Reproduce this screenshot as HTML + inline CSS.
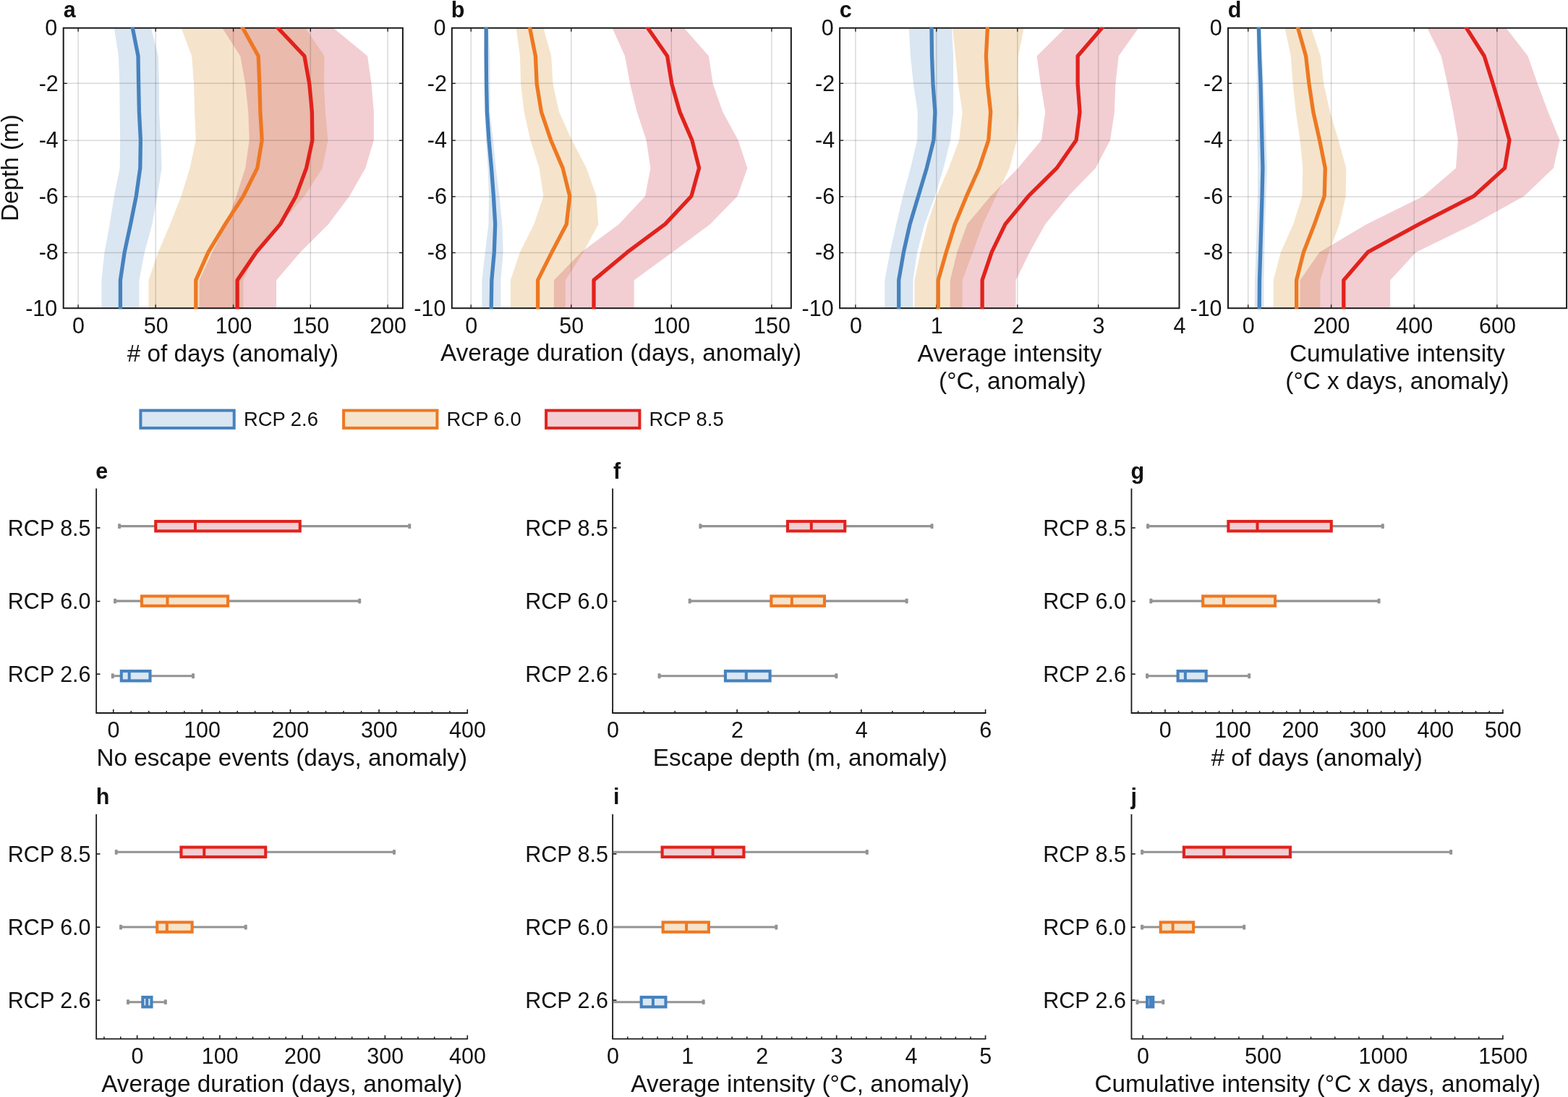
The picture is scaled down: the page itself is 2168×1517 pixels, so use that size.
<!DOCTYPE html>
<html lang="en">
<head>
<meta charset="utf-8">
<title>Figure</title>
<style>
html,body{margin:0;padding:0;background:#fff;}
body{width:2168px;height:1517px;overflow:hidden;}
main,figure{display:block;margin:0;padding:0;width:2168px;height:1517px;}
svg{display:block;}
svg text{font-family:"Liberation Sans", sans-serif;}
</style>
</head>
<body>
<main>
<figure>
<svg width="2168" height="1517" viewBox="0 0 2168 1517" role="img" aria-label="Marine heatwave anomalies by depth and RCP scenario">
<g font-family='"Liberation Sans", sans-serif' fill="#111111">
<g>
<clipPath id="clipa"><rect x="86.7" y="37.7" width="471.20" height="389.50"/></clipPath>
<g clip-path="url(#clipa)">
<polygon points="157.8,38.7 163.9,77.5 165.3,116.2 165.6,154.9 166.1,193.7 165.6,232.4 157.8,271.2 151.7,309.9 144.5,348.7 140.4,387.4 140.4,426.2 192.4,426.2 192.4,387.4 199.9,348.7 210.4,309.9 217.3,271.2 223.7,232.4 222.3,193.7 220.1,154.9 220.1,116.2 218.7,77.5 209.0,38.7" fill="#4682be" fill-opacity="0.2"/>
<polygon points="250.6,38.7 265.2,77.5 268.0,116.2 269.1,154.9 270.8,193.7 262.5,232.4 250.6,271.2 235.3,309.9 218.7,348.7 205.4,387.4 205.4,426.2 336.4,426.2 336.4,387.4 354.4,348.7 387.6,309.9 420.9,271.2 445.8,232.4 453.5,193.7 449.9,154.9 448.0,116.2 448.5,77.5 422.2,38.7" fill="#e6bc7d" fill-opacity="0.4"/>
<polygon points="307.3,38.7 332.3,77.5 339.2,116.2 343.3,154.9 344.7,193.7 339.2,232.4 326.7,271.2 312.9,309.9 293.5,348.7 275.5,387.4 275.5,426.2 382.1,426.2 382.1,387.4 415.3,348.7 454.1,309.9 483.2,271.2 505.3,232.4 516.9,193.7 516.9,154.9 513.6,116.2 508.1,77.5 461.0,38.7" fill="#cc3d50" fill-opacity="0.25"/>
</g>
<line x1="108.10" x2="108.10" y1="43.7" y2="421.2" stroke="#000" stroke-opacity="0.15" stroke-width="1.5"/>
<line x1="215.20" x2="215.20" y1="43.7" y2="421.2" stroke="#000" stroke-opacity="0.15" stroke-width="1.5"/>
<line x1="322.60" x2="322.60" y1="43.7" y2="421.2" stroke="#000" stroke-opacity="0.15" stroke-width="1.5"/>
<line x1="429.30" x2="429.30" y1="43.7" y2="421.2" stroke="#000" stroke-opacity="0.15" stroke-width="1.5"/>
<line x1="536.10" x2="536.10" y1="43.7" y2="421.2" stroke="#000" stroke-opacity="0.15" stroke-width="1.5"/>
<line x1="92.7" x2="551.9" y1="115.30" y2="115.30" stroke="#000" stroke-opacity="0.15" stroke-width="1.5"/>
<line x1="92.7" x2="551.9" y1="194.20" y2="194.20" stroke="#000" stroke-opacity="0.15" stroke-width="1.5"/>
<line x1="92.7" x2="551.9" y1="271.90" y2="271.90" stroke="#000" stroke-opacity="0.15" stroke-width="1.5"/>
<line x1="92.7" x2="551.9" y1="349.50" y2="349.50" stroke="#000" stroke-opacity="0.15" stroke-width="1.5"/>
<line x1="108.10" x2="108.10" y1="426.2" y2="421.2" stroke="#1a1a1a" stroke-width="1.4"/>
<line x1="108.10" x2="108.10" y1="38.7" y2="43.7" stroke="#1a1a1a" stroke-width="1.4"/>
<line x1="215.20" x2="215.20" y1="426.2" y2="421.2" stroke="#1a1a1a" stroke-width="1.4"/>
<line x1="215.20" x2="215.20" y1="38.7" y2="43.7" stroke="#1a1a1a" stroke-width="1.4"/>
<line x1="322.60" x2="322.60" y1="426.2" y2="421.2" stroke="#1a1a1a" stroke-width="1.4"/>
<line x1="322.60" x2="322.60" y1="38.7" y2="43.7" stroke="#1a1a1a" stroke-width="1.4"/>
<line x1="429.30" x2="429.30" y1="426.2" y2="421.2" stroke="#1a1a1a" stroke-width="1.4"/>
<line x1="429.30" x2="429.30" y1="38.7" y2="43.7" stroke="#1a1a1a" stroke-width="1.4"/>
<line x1="536.10" x2="536.10" y1="426.2" y2="421.2" stroke="#1a1a1a" stroke-width="1.4"/>
<line x1="536.10" x2="536.10" y1="38.7" y2="43.7" stroke="#1a1a1a" stroke-width="1.4"/>
<line x1="87.7" x2="92.7" y1="115.30" y2="115.30" stroke="#1a1a1a" stroke-width="1.4"/>
<line x1="556.9" x2="551.9" y1="115.30" y2="115.30" stroke="#1a1a1a" stroke-width="1.4"/>
<line x1="87.7" x2="92.7" y1="194.20" y2="194.20" stroke="#1a1a1a" stroke-width="1.4"/>
<line x1="556.9" x2="551.9" y1="194.20" y2="194.20" stroke="#1a1a1a" stroke-width="1.4"/>
<line x1="87.7" x2="92.7" y1="271.90" y2="271.90" stroke="#1a1a1a" stroke-width="1.4"/>
<line x1="556.9" x2="551.9" y1="271.90" y2="271.90" stroke="#1a1a1a" stroke-width="1.4"/>
<line x1="87.7" x2="92.7" y1="349.50" y2="349.50" stroke="#1a1a1a" stroke-width="1.4"/>
<line x1="556.9" x2="551.9" y1="349.50" y2="349.50" stroke="#1a1a1a" stroke-width="1.4"/>
<rect x="87.7" y="38.7" width="469.20" height="387.50" fill="none" stroke="#1a1a1a" stroke-width="2"/>
<g clip-path="url(#clipa)">
<polyline points="182.9,36.8 183.3,38.7 191.0,77.5 191.6,116.2 192.4,154.9 194.4,193.7 193.8,232.4 188.3,271.2 180.5,309.9 172.2,348.7 166.4,387.4 166.4,426.2 166.4,428.2" fill="none" stroke="#4682be" stroke-width="5.3" stroke-linejoin="round"/>
<polyline points="334.5,36.8 335.6,38.7 357.2,77.5 358.8,116.2 359.9,154.9 362.2,193.7 355.8,232.4 336.4,271.2 311.5,309.9 288.0,348.7 270.8,387.4 270.8,426.2 270.8,428.2" fill="none" stroke="#ee7822" stroke-width="5.3" stroke-linejoin="round"/>
<polyline points="382.5,36.8 384.3,38.7 420.9,77.5 427.8,116.2 431.4,154.9 431.9,193.7 423.6,232.4 409.2,271.2 387.6,309.9 354.4,348.7 328.1,387.4 328.1,426.2 328.1,428.2" fill="none" stroke="#e1221c" stroke-width="5.3" stroke-linejoin="round"/>
</g>
<text x="108.60" y="460.90" font-size="30.5" text-anchor="middle" font-weight="normal" >0</text>
<text x="215.70" y="460.90" font-size="30.5" text-anchor="middle" font-weight="normal" >50</text>
<text x="323.10" y="460.90" font-size="30.5" text-anchor="middle" font-weight="normal" >100</text>
<text x="429.80" y="460.90" font-size="30.5" text-anchor="middle" font-weight="normal" >150</text>
<text x="536.60" y="460.90" font-size="30.5" text-anchor="middle" font-weight="normal" >200</text>
<text x="79.30" y="48.60" font-size="30.5" text-anchor="end" font-weight="normal" >0</text>
<text x="80.80" y="126.24" font-size="30.5" text-anchor="end" font-weight="normal" >-2</text>
<text x="80.80" y="203.88" font-size="30.5" text-anchor="end" font-weight="normal" >-4</text>
<text x="80.80" y="281.52" font-size="30.5" text-anchor="end" font-weight="normal" >-6</text>
<text x="80.80" y="359.16" font-size="30.5" text-anchor="end" font-weight="normal" >-8</text>
<text x="79.30" y="436.80" font-size="30.5" text-anchor="end" font-weight="normal" >-10</text>
<text x="87.70" y="23.50" font-size="30.5" text-anchor="start" font-weight="bold" >a</text>
</g>
<g>
<clipPath id="clipb"><rect x="623.8" y="37.7" width="471.05" height="389.50"/></clipPath>
<g clip-path="url(#clipb)">
<polygon points="669.6,38.7 669.6,77.5 670.2,116.2 670.2,154.9 672.0,193.7 674.6,232.4 676.0,271.2 675.4,309.9 670.8,348.7 666.4,387.4 666.4,426.2 692.3,426.2 692.3,387.4 695.7,348.7 694.3,309.9 690.5,271.2 685.6,232.4 681.8,193.7 677.5,154.9 677.5,116.2 677.5,77.5 675.1,38.7" fill="#4682be" fill-opacity="0.2"/>
<polygon points="713.7,38.7 718.9,77.5 720.1,116.2 724.7,154.9 733.4,193.7 745.6,232.4 751.4,271.2 738.4,309.9 718.9,348.7 705.9,387.4 705.9,426.2 781.9,426.2 781.9,387.4 806.5,348.7 827.4,309.9 824.5,271.2 810.9,232.4 790.6,193.7 773.2,154.9 764.5,116.2 762.2,77.5 751.4,38.7" fill="#e6bc7d" fill-opacity="0.4"/>
<polygon points="846.6,38.7 864.0,77.5 871.2,116.2 880.8,154.9 893.6,193.7 899.4,232.4 892.1,271.2 855.8,309.9 803.6,348.7 765.9,387.4 765.9,426.2 876.7,426.2 876.7,387.4 929.8,348.7 982.0,309.9 1019.7,271.2 1033.4,232.4 1020.6,193.7 999.4,154.9 985.8,116.2 980.0,77.5 945.8,38.7" fill="#cc3d50" fill-opacity="0.25"/>
</g>
<line x1="651.20" x2="651.20" y1="43.7" y2="421.2" stroke="#000" stroke-opacity="0.15" stroke-width="1.5"/>
<line x1="789.80" x2="789.80" y1="43.7" y2="421.2" stroke="#000" stroke-opacity="0.15" stroke-width="1.5"/>
<line x1="928.30" x2="928.30" y1="43.7" y2="421.2" stroke="#000" stroke-opacity="0.15" stroke-width="1.5"/>
<line x1="1066.90" x2="1066.90" y1="43.7" y2="421.2" stroke="#000" stroke-opacity="0.15" stroke-width="1.5"/>
<line x1="629.8" x2="1088.85" y1="115.30" y2="115.30" stroke="#000" stroke-opacity="0.15" stroke-width="1.5"/>
<line x1="629.8" x2="1088.85" y1="194.20" y2="194.20" stroke="#000" stroke-opacity="0.15" stroke-width="1.5"/>
<line x1="629.8" x2="1088.85" y1="271.90" y2="271.90" stroke="#000" stroke-opacity="0.15" stroke-width="1.5"/>
<line x1="629.8" x2="1088.85" y1="349.50" y2="349.50" stroke="#000" stroke-opacity="0.15" stroke-width="1.5"/>
<line x1="651.20" x2="651.20" y1="426.2" y2="421.2" stroke="#1a1a1a" stroke-width="1.4"/>
<line x1="651.20" x2="651.20" y1="38.7" y2="43.7" stroke="#1a1a1a" stroke-width="1.4"/>
<line x1="789.80" x2="789.80" y1="426.2" y2="421.2" stroke="#1a1a1a" stroke-width="1.4"/>
<line x1="789.80" x2="789.80" y1="38.7" y2="43.7" stroke="#1a1a1a" stroke-width="1.4"/>
<line x1="928.30" x2="928.30" y1="426.2" y2="421.2" stroke="#1a1a1a" stroke-width="1.4"/>
<line x1="928.30" x2="928.30" y1="38.7" y2="43.7" stroke="#1a1a1a" stroke-width="1.4"/>
<line x1="1066.90" x2="1066.90" y1="426.2" y2="421.2" stroke="#1a1a1a" stroke-width="1.4"/>
<line x1="1066.90" x2="1066.90" y1="38.7" y2="43.7" stroke="#1a1a1a" stroke-width="1.4"/>
<line x1="624.8" x2="629.8" y1="115.30" y2="115.30" stroke="#1a1a1a" stroke-width="1.4"/>
<line x1="1093.85" x2="1088.85" y1="115.30" y2="115.30" stroke="#1a1a1a" stroke-width="1.4"/>
<line x1="624.8" x2="629.8" y1="194.20" y2="194.20" stroke="#1a1a1a" stroke-width="1.4"/>
<line x1="1093.85" x2="1088.85" y1="194.20" y2="194.20" stroke="#1a1a1a" stroke-width="1.4"/>
<line x1="624.8" x2="629.8" y1="271.90" y2="271.90" stroke="#1a1a1a" stroke-width="1.4"/>
<line x1="1093.85" x2="1088.85" y1="271.90" y2="271.90" stroke="#1a1a1a" stroke-width="1.4"/>
<line x1="624.8" x2="629.8" y1="349.50" y2="349.50" stroke="#1a1a1a" stroke-width="1.4"/>
<line x1="1093.85" x2="1088.85" y1="349.50" y2="349.50" stroke="#1a1a1a" stroke-width="1.4"/>
<rect x="624.8" y="38.7" width="469.05" height="387.50" fill="none" stroke="#1a1a1a" stroke-width="2"/>
<g clip-path="url(#clipb)">
<polyline points="672.2,36.8 672.2,38.7 672.2,77.5 672.5,116.2 673.4,154.9 676.0,193.7 679.5,232.4 682.4,271.2 684.7,309.9 683.3,348.7 679.8,387.4 679.2,426.2 679.2,428.2" fill="none" stroke="#4682be" stroke-width="5.3" stroke-linejoin="round"/>
<polyline points="732.2,36.8 732.6,38.7 740.4,77.5 742.2,116.2 748.5,154.9 761.6,193.7 778.1,232.4 787.7,271.2 783.3,309.9 763.0,348.7 743.6,387.4 743.6,426.2 743.6,428.2" fill="none" stroke="#ee7822" stroke-width="5.3" stroke-linejoin="round"/>
<polyline points="894.2,36.8 895.6,38.7 922.6,77.5 928.9,116.2 940.0,154.9 956.8,193.7 966.6,232.4 955.9,271.2 919.7,309.9 867.5,348.7 821.0,387.4 821.0,426.2 821.0,428.2" fill="none" stroke="#e1221c" stroke-width="5.3" stroke-linejoin="round"/>
</g>
<text x="651.70" y="460.90" font-size="30.5" text-anchor="middle" font-weight="normal" >0</text>
<text x="790.30" y="460.90" font-size="30.5" text-anchor="middle" font-weight="normal" >50</text>
<text x="928.80" y="460.90" font-size="30.5" text-anchor="middle" font-weight="normal" >100</text>
<text x="1067.40" y="460.90" font-size="30.5" text-anchor="middle" font-weight="normal" >150</text>
<text x="616.40" y="48.60" font-size="30.5" text-anchor="end" font-weight="normal" >0</text>
<text x="617.90" y="126.24" font-size="30.5" text-anchor="end" font-weight="normal" >-2</text>
<text x="617.90" y="203.88" font-size="30.5" text-anchor="end" font-weight="normal" >-4</text>
<text x="617.90" y="281.52" font-size="30.5" text-anchor="end" font-weight="normal" >-6</text>
<text x="617.90" y="359.16" font-size="30.5" text-anchor="end" font-weight="normal" >-8</text>
<text x="616.40" y="436.80" font-size="30.5" text-anchor="end" font-weight="normal" >-10</text>
<text x="623.70" y="23.50" font-size="30.5" text-anchor="start" font-weight="bold" >b</text>
</g>
<g>
<clipPath id="clipc"><rect x="1160.1" y="37.7" width="471.40" height="389.50"/></clipPath>
<g clip-path="url(#clipc)">
<polygon points="1256.6,38.7 1258.9,77.5 1263.0,116.2 1268.8,154.9 1268.2,193.7 1258.9,232.4 1248.5,271.2 1239.2,309.9 1230.5,348.7 1223.3,387.4 1223.3,426.2 1262.4,426.2 1262.4,387.4 1268.2,348.7 1278.4,309.9 1292.9,271.2 1304.5,232.4 1314.1,193.7 1318.1,154.9 1318.1,116.2 1318.1,77.5 1316.1,38.7" fill="#4682be" fill-opacity="0.2"/>
<polygon points="1317.0,38.7 1321.0,77.5 1324.8,116.2 1330.6,154.9 1326.2,193.7 1311.7,232.4 1294.9,271.2 1282.2,309.9 1272.6,348.7 1264.5,387.4 1264.5,426.2 1330.6,426.2 1330.6,387.4 1345.1,348.7 1359.0,309.9 1377.3,271.2 1395.8,232.4 1406.0,193.7 1408.9,154.9 1407.5,116.2 1408.0,77.5 1415.6,38.7" fill="#e6bc7d" fill-opacity="0.4"/>
<polygon points="1472.7,38.7 1433.6,77.5 1438.8,116.2 1445.2,154.9 1439.9,193.7 1407.5,232.4 1369.7,271.2 1337.3,309.9 1323.3,348.7 1313.8,387.4 1313.8,426.2 1404.6,426.2 1404.6,387.4 1423.7,348.7 1445.2,309.9 1477.1,271.2 1514.8,232.4 1535.1,193.7 1540.9,154.9 1542.3,116.2 1546.7,77.5 1574.2,38.7" fill="#cc3d50" fill-opacity="0.25"/>
</g>
<line x1="1182.90" x2="1182.90" y1="43.7" y2="421.2" stroke="#000" stroke-opacity="0.15" stroke-width="1.5"/>
<line x1="1294.80" x2="1294.80" y1="43.7" y2="421.2" stroke="#000" stroke-opacity="0.15" stroke-width="1.5"/>
<line x1="1406.80" x2="1406.80" y1="43.7" y2="421.2" stroke="#000" stroke-opacity="0.15" stroke-width="1.5"/>
<line x1="1518.60" x2="1518.60" y1="43.7" y2="421.2" stroke="#000" stroke-opacity="0.15" stroke-width="1.5"/>
<line x1="1166.1" x2="1625.5" y1="115.30" y2="115.30" stroke="#000" stroke-opacity="0.15" stroke-width="1.5"/>
<line x1="1166.1" x2="1625.5" y1="194.20" y2="194.20" stroke="#000" stroke-opacity="0.15" stroke-width="1.5"/>
<line x1="1166.1" x2="1625.5" y1="271.90" y2="271.90" stroke="#000" stroke-opacity="0.15" stroke-width="1.5"/>
<line x1="1166.1" x2="1625.5" y1="349.50" y2="349.50" stroke="#000" stroke-opacity="0.15" stroke-width="1.5"/>
<line x1="1182.90" x2="1182.90" y1="426.2" y2="421.2" stroke="#1a1a1a" stroke-width="1.4"/>
<line x1="1182.90" x2="1182.90" y1="38.7" y2="43.7" stroke="#1a1a1a" stroke-width="1.4"/>
<line x1="1294.80" x2="1294.80" y1="426.2" y2="421.2" stroke="#1a1a1a" stroke-width="1.4"/>
<line x1="1294.80" x2="1294.80" y1="38.7" y2="43.7" stroke="#1a1a1a" stroke-width="1.4"/>
<line x1="1406.80" x2="1406.80" y1="426.2" y2="421.2" stroke="#1a1a1a" stroke-width="1.4"/>
<line x1="1406.80" x2="1406.80" y1="38.7" y2="43.7" stroke="#1a1a1a" stroke-width="1.4"/>
<line x1="1518.60" x2="1518.60" y1="426.2" y2="421.2" stroke="#1a1a1a" stroke-width="1.4"/>
<line x1="1518.60" x2="1518.60" y1="38.7" y2="43.7" stroke="#1a1a1a" stroke-width="1.4"/>
<line x1="1161.1" x2="1166.1" y1="115.30" y2="115.30" stroke="#1a1a1a" stroke-width="1.4"/>
<line x1="1630.5" x2="1625.5" y1="115.30" y2="115.30" stroke="#1a1a1a" stroke-width="1.4"/>
<line x1="1161.1" x2="1166.1" y1="194.20" y2="194.20" stroke="#1a1a1a" stroke-width="1.4"/>
<line x1="1630.5" x2="1625.5" y1="194.20" y2="194.20" stroke="#1a1a1a" stroke-width="1.4"/>
<line x1="1161.1" x2="1166.1" y1="271.90" y2="271.90" stroke="#1a1a1a" stroke-width="1.4"/>
<line x1="1630.5" x2="1625.5" y1="271.90" y2="271.90" stroke="#1a1a1a" stroke-width="1.4"/>
<line x1="1161.1" x2="1166.1" y1="349.50" y2="349.50" stroke="#1a1a1a" stroke-width="1.4"/>
<line x1="1630.5" x2="1625.5" y1="349.50" y2="349.50" stroke="#1a1a1a" stroke-width="1.4"/>
<rect x="1161.1" y="38.7" width="469.40" height="387.50" fill="none" stroke="#1a1a1a" stroke-width="2"/>
<g clip-path="url(#clipc)">
<polyline points="1287.9,36.8 1288.0,38.7 1288.5,77.5 1290.0,116.2 1292.9,154.9 1290.9,193.7 1281.3,232.4 1269.7,271.2 1258.1,309.9 1249.4,348.7 1242.7,387.4 1242.7,426.2 1242.7,428.2" fill="none" stroke="#4682be" stroke-width="5.3" stroke-linejoin="round"/>
<polyline points="1365.5,36.8 1365.4,38.7 1363.4,77.5 1365.4,116.2 1369.7,154.9 1366.8,193.7 1353.8,232.4 1336.4,271.2 1320.4,309.9 1308.3,348.7 1297.2,387.4 1297.2,426.2 1297.2,428.2" fill="none" stroke="#ee7822" stroke-width="5.3" stroke-linejoin="round"/>
<polyline points="1525.1,36.8 1523.5,38.7 1490.1,77.5 1490.1,116.2 1493.0,154.9 1488.1,193.7 1461.1,232.4 1422.0,271.2 1390.0,309.9 1371.2,348.7 1358.1,387.4 1358.1,426.2 1358.1,428.2" fill="none" stroke="#e1221c" stroke-width="5.3" stroke-linejoin="round"/>
</g>
<text x="1183.40" y="460.90" font-size="30.5" text-anchor="middle" font-weight="normal" >0</text>
<text x="1295.30" y="460.90" font-size="30.5" text-anchor="middle" font-weight="normal" >1</text>
<text x="1407.30" y="460.90" font-size="30.5" text-anchor="middle" font-weight="normal" >2</text>
<text x="1519.10" y="460.90" font-size="30.5" text-anchor="middle" font-weight="normal" >3</text>
<text x="1631.00" y="460.90" font-size="30.5" text-anchor="middle" font-weight="normal" >4</text>
<text x="1152.70" y="48.60" font-size="30.5" text-anchor="end" font-weight="normal" >0</text>
<text x="1154.20" y="126.24" font-size="30.5" text-anchor="end" font-weight="normal" >-2</text>
<text x="1154.20" y="203.88" font-size="30.5" text-anchor="end" font-weight="normal" >-4</text>
<text x="1154.20" y="281.52" font-size="30.5" text-anchor="end" font-weight="normal" >-6</text>
<text x="1154.20" y="359.16" font-size="30.5" text-anchor="end" font-weight="normal" >-8</text>
<text x="1152.70" y="436.80" font-size="30.5" text-anchor="end" font-weight="normal" >-10</text>
<text x="1160.70" y="23.50" font-size="30.5" text-anchor="start" font-weight="bold" >c</text>
</g>
<g>
<clipPath id="clipd"><rect x="1697.0" y="37.7" width="470.10" height="389.50"/></clipPath>
<g clip-path="url(#clipd)">
<polygon points="1737.5,38.7 1737.8,77.5 1737.8,116.2 1738.0,154.9 1738.3,193.7 1739.2,232.4 1738.9,271.2 1737.8,309.9 1736.6,348.7 1735.1,387.4 1734.6,426.2 1747.6,426.2 1747.6,387.4 1748.2,348.7 1749.1,309.9 1750.5,271.2 1752.0,232.4 1750.5,193.7 1749.1,154.9 1747.0,116.2 1745.3,77.5 1743.3,38.7" fill="#4682be" fill-opacity="0.2"/>
<polygon points="1776.6,38.7 1784.7,77.5 1787.6,116.2 1791.7,154.9 1797.5,193.7 1801.3,232.4 1800.4,271.2 1788.2,309.9 1770.8,348.7 1760.7,387.4 1760.7,426.2 1825.4,426.2 1825.4,387.4 1837.5,348.7 1852.0,309.9 1860.7,271.2 1861.3,232.4 1850.6,193.7 1839.0,154.9 1830.3,116.2 1825.9,77.5 1812.9,38.7" fill="#e6bc7d" fill-opacity="0.4"/>
<polygon points="1973.3,38.7 1992.7,77.5 2001.4,116.2 2009.2,154.9 2015.9,193.7 2013.0,232.4 1968.1,271.2 1889.7,309.9 1824.5,348.7 1797.5,387.4 1797.5,426.2 1922.2,426.2 1922.2,387.4 1957.9,348.7 2037.7,309.9 2107.3,271.2 2147.9,232.4 2156.6,193.7 2140.6,154.9 2126.1,116.2 2112.5,77.5 2082.6,38.7" fill="#cc3d50" fill-opacity="0.25"/>
</g>
<line x1="1725.70" x2="1725.70" y1="43.7" y2="421.2" stroke="#000" stroke-opacity="0.15" stroke-width="1.5"/>
<line x1="1840.60" x2="1840.60" y1="43.7" y2="421.2" stroke="#000" stroke-opacity="0.15" stroke-width="1.5"/>
<line x1="1955.30" x2="1955.30" y1="43.7" y2="421.2" stroke="#000" stroke-opacity="0.15" stroke-width="1.5"/>
<line x1="2069.90" x2="2069.90" y1="43.7" y2="421.2" stroke="#000" stroke-opacity="0.15" stroke-width="1.5"/>
<line x1="1703.0" x2="2161.1" y1="115.30" y2="115.30" stroke="#000" stroke-opacity="0.15" stroke-width="1.5"/>
<line x1="1703.0" x2="2161.1" y1="194.20" y2="194.20" stroke="#000" stroke-opacity="0.15" stroke-width="1.5"/>
<line x1="1703.0" x2="2161.1" y1="271.90" y2="271.90" stroke="#000" stroke-opacity="0.15" stroke-width="1.5"/>
<line x1="1703.0" x2="2161.1" y1="349.50" y2="349.50" stroke="#000" stroke-opacity="0.15" stroke-width="1.5"/>
<line x1="1725.70" x2="1725.70" y1="426.2" y2="421.2" stroke="#1a1a1a" stroke-width="1.4"/>
<line x1="1725.70" x2="1725.70" y1="38.7" y2="43.7" stroke="#1a1a1a" stroke-width="1.4"/>
<line x1="1840.60" x2="1840.60" y1="426.2" y2="421.2" stroke="#1a1a1a" stroke-width="1.4"/>
<line x1="1840.60" x2="1840.60" y1="38.7" y2="43.7" stroke="#1a1a1a" stroke-width="1.4"/>
<line x1="1955.30" x2="1955.30" y1="426.2" y2="421.2" stroke="#1a1a1a" stroke-width="1.4"/>
<line x1="1955.30" x2="1955.30" y1="38.7" y2="43.7" stroke="#1a1a1a" stroke-width="1.4"/>
<line x1="2069.90" x2="2069.90" y1="426.2" y2="421.2" stroke="#1a1a1a" stroke-width="1.4"/>
<line x1="2069.90" x2="2069.90" y1="38.7" y2="43.7" stroke="#1a1a1a" stroke-width="1.4"/>
<line x1="1698.0" x2="1703.0" y1="115.30" y2="115.30" stroke="#1a1a1a" stroke-width="1.4"/>
<line x1="2166.1" x2="2161.1" y1="115.30" y2="115.30" stroke="#1a1a1a" stroke-width="1.4"/>
<line x1="1698.0" x2="1703.0" y1="194.20" y2="194.20" stroke="#1a1a1a" stroke-width="1.4"/>
<line x1="2166.1" x2="2161.1" y1="194.20" y2="194.20" stroke="#1a1a1a" stroke-width="1.4"/>
<line x1="1698.0" x2="1703.0" y1="271.90" y2="271.90" stroke="#1a1a1a" stroke-width="1.4"/>
<line x1="2166.1" x2="2161.1" y1="271.90" y2="271.90" stroke="#1a1a1a" stroke-width="1.4"/>
<line x1="1698.0" x2="1703.0" y1="349.50" y2="349.50" stroke="#1a1a1a" stroke-width="1.4"/>
<line x1="2166.1" x2="2161.1" y1="349.50" y2="349.50" stroke="#1a1a1a" stroke-width="1.4"/>
<rect x="1698.0" y="38.7" width="468.10" height="387.50" fill="none" stroke="#1a1a1a" stroke-width="2"/>
<g clip-path="url(#clipd)">
<polyline points="1740.3,36.8 1740.4,38.7 1741.5,77.5 1743.0,116.2 1743.9,154.9 1744.9,193.7 1745.9,232.4 1745.0,271.2 1743.9,309.9 1742.7,348.7 1741.5,387.4 1741.2,426.2 1741.2,428.2" fill="none" stroke="#4682be" stroke-width="5.3" stroke-linejoin="round"/>
<polyline points="1794.1,36.8 1794.6,38.7 1805.6,77.5 1810.0,116.2 1815.8,154.9 1824.5,193.7 1832.3,232.4 1831.2,271.2 1817.5,309.9 1802.4,348.7 1792.6,387.4 1792.6,426.2 1792.6,428.2" fill="none" stroke="#ee7822" stroke-width="5.3" stroke-linejoin="round"/>
<polyline points="2026.3,36.8 2027.5,38.7 2052.2,77.5 2064.4,116.2 2076.0,154.9 2087.0,193.7 2080.6,232.4 2037.7,271.2 1962.3,309.9 1891.2,348.7 1857.8,387.4 1857.8,426.2 1857.8,428.2" fill="none" stroke="#e1221c" stroke-width="5.3" stroke-linejoin="round"/>
</g>
<text x="1726.20" y="460.90" font-size="30.5" text-anchor="middle" font-weight="normal" >0</text>
<text x="1841.10" y="460.90" font-size="30.5" text-anchor="middle" font-weight="normal" >200</text>
<text x="1955.80" y="460.90" font-size="30.5" text-anchor="middle" font-weight="normal" >400</text>
<text x="2070.40" y="460.90" font-size="30.5" text-anchor="middle" font-weight="normal" >600</text>
<text x="1689.60" y="48.60" font-size="30.5" text-anchor="end" font-weight="normal" >0</text>
<text x="1691.10" y="126.24" font-size="30.5" text-anchor="end" font-weight="normal" >-2</text>
<text x="1691.10" y="203.88" font-size="30.5" text-anchor="end" font-weight="normal" >-4</text>
<text x="1691.10" y="281.52" font-size="30.5" text-anchor="end" font-weight="normal" >-6</text>
<text x="1691.10" y="359.16" font-size="30.5" text-anchor="end" font-weight="normal" >-8</text>
<text x="1689.60" y="436.80" font-size="30.5" text-anchor="end" font-weight="normal" >-10</text>
<text x="1697.70" y="23.50" font-size="30.5" text-anchor="start" font-weight="bold" >d</text>
</g>
<text x="0.00" y="0.00" font-size="33.3" text-anchor="middle" font-weight="normal" transform="translate(25,232.1) rotate(-90)">Depth (m)</text>
<text x="322.00" y="500.00" font-size="33.3" text-anchor="middle" font-weight="normal" ># of days (anomaly)</text>
<text x="858.60" y="499.40" font-size="33.3" text-anchor="middle" font-weight="normal" >Average duration (days, anomaly)</text>
<text x="1396.00" y="500.00" font-size="33.3" text-anchor="middle" font-weight="normal" >Average intensity</text>
<text x="1400.00" y="538.00" font-size="33.3" text-anchor="middle" font-weight="normal" >(°C, anomaly)</text>
<text x="1932.00" y="500.00" font-size="33.3" text-anchor="middle" font-weight="normal" >Cumulative intensity</text>
<text x="1932.00" y="538.00" font-size="33.3" text-anchor="middle" font-weight="normal" >(°C x days, anomaly)</text>
<rect x="194.4" y="567.6" width="129.3" height="24.3" fill="#fff"/>
<rect x="194.4" y="567.6" width="129.3" height="24.3" fill="#4682be" fill-opacity="0.2" stroke="none"/>
<rect x="194.4" y="567.6" width="129.3" height="24.3" fill="none" stroke="#4682be" stroke-width="4"/>
<text x="336.90" y="588.50" font-size="27.4" text-anchor="start" font-weight="normal" >RCP 2.6</text>
<rect x="475.1" y="567.6" width="129.3" height="24.3" fill="#fff"/>
<rect x="475.1" y="567.6" width="129.3" height="24.3" fill="#e6bc7d" fill-opacity="0.4" stroke="none"/>
<rect x="475.1" y="567.6" width="129.3" height="24.3" fill="none" stroke="#ee7822" stroke-width="4"/>
<text x="617.60" y="588.50" font-size="27.4" text-anchor="start" font-weight="normal" >RCP 6.0</text>
<rect x="755.1" y="567.6" width="129.3" height="24.3" fill="#fff"/>
<rect x="755.1" y="567.6" width="129.3" height="24.3" fill="#cc3d50" fill-opacity="0.25" stroke="none"/>
<rect x="755.1" y="567.6" width="129.3" height="24.3" fill="none" stroke="#e1221c" stroke-width="4"/>
<text x="897.60" y="588.50" font-size="27.4" text-anchor="start" font-weight="normal" >RCP 8.5</text>
<g>
<path d="M133.17,675.50 V985.98 H647.07" fill="none" stroke="#1a1a1a" stroke-width="1.8"/>
<line x1="156.75" x2="156.75" y1="985.98" y2="980.98" stroke="#1a1a1a" stroke-width="1.6"/>
<text x="157.05" y="1020.28" font-size="30.5" text-anchor="middle" font-weight="normal" >0</text>
<line x1="181.26" x2="181.26" y1="985.98" y2="982.98" stroke="#1a1a1a" stroke-width="1.5"/>
<line x1="205.77" x2="205.77" y1="985.98" y2="982.98" stroke="#1a1a1a" stroke-width="1.5"/>
<line x1="230.28" x2="230.28" y1="985.98" y2="982.98" stroke="#1a1a1a" stroke-width="1.5"/>
<line x1="254.79" x2="254.79" y1="985.98" y2="982.98" stroke="#1a1a1a" stroke-width="1.5"/>
<line x1="279.30" x2="279.30" y1="985.98" y2="980.98" stroke="#1a1a1a" stroke-width="1.6"/>
<text x="279.60" y="1020.28" font-size="30.5" text-anchor="middle" font-weight="normal" >100</text>
<line x1="303.74" x2="303.74" y1="985.98" y2="982.98" stroke="#1a1a1a" stroke-width="1.5"/>
<line x1="328.18" x2="328.18" y1="985.98" y2="982.98" stroke="#1a1a1a" stroke-width="1.5"/>
<line x1="352.63" x2="352.63" y1="985.98" y2="982.98" stroke="#1a1a1a" stroke-width="1.5"/>
<line x1="377.07" x2="377.07" y1="985.98" y2="982.98" stroke="#1a1a1a" stroke-width="1.5"/>
<line x1="401.51" x2="401.51" y1="985.98" y2="980.98" stroke="#1a1a1a" stroke-width="1.6"/>
<text x="401.81" y="1020.28" font-size="30.5" text-anchor="middle" font-weight="normal" >200</text>
<line x1="426.02" x2="426.02" y1="985.98" y2="982.98" stroke="#1a1a1a" stroke-width="1.5"/>
<line x1="450.53" x2="450.53" y1="985.98" y2="982.98" stroke="#1a1a1a" stroke-width="1.5"/>
<line x1="475.04" x2="475.04" y1="985.98" y2="982.98" stroke="#1a1a1a" stroke-width="1.5"/>
<line x1="499.55" x2="499.55" y1="985.98" y2="982.98" stroke="#1a1a1a" stroke-width="1.5"/>
<line x1="524.06" x2="524.06" y1="985.98" y2="980.98" stroke="#1a1a1a" stroke-width="1.6"/>
<text x="524.36" y="1020.28" font-size="30.5" text-anchor="middle" font-weight="normal" >300</text>
<line x1="548.50" x2="548.50" y1="985.98" y2="982.98" stroke="#1a1a1a" stroke-width="1.5"/>
<line x1="572.94" x2="572.94" y1="985.98" y2="982.98" stroke="#1a1a1a" stroke-width="1.5"/>
<line x1="597.39" x2="597.39" y1="985.98" y2="982.98" stroke="#1a1a1a" stroke-width="1.5"/>
<line x1="621.83" x2="621.83" y1="985.98" y2="982.98" stroke="#1a1a1a" stroke-width="1.5"/>
<line x1="646.27" x2="646.27" y1="985.98" y2="980.98" stroke="#1a1a1a" stroke-width="1.6"/>
<text x="646.57" y="1020.28" font-size="30.5" text-anchor="middle" font-weight="normal" >400</text>
<line x1="133.17" x2="138.47" y1="729.93" y2="729.93" stroke="#1a1a1a" stroke-width="1.6"/>
<text x="125.57" y="740.73" font-size="30.5" text-anchor="end" font-weight="normal" >RCP 8.5</text>
<line x1="133.17" x2="138.47" y1="831.55" y2="831.55" stroke="#1a1a1a" stroke-width="1.6"/>
<text x="125.57" y="842.35" font-size="30.5" text-anchor="end" font-weight="normal" >RCP 6.0</text>
<line x1="133.17" x2="138.47" y1="932.18" y2="932.18" stroke="#1a1a1a" stroke-width="1.6"/>
<text x="125.57" y="942.98" font-size="30.5" text-anchor="end" font-weight="normal" >RCP 2.6</text>
<line x1="165.06" x2="566.24" y1="727.67" y2="727.67" stroke="#939393" stroke-width="3.1"/>
<rect x="163.06" y="724.27" width="4" height="6.8" rx="0.8" fill="#939393"/>
<rect x="564.24" y="724.27" width="4" height="6.8" rx="0.8" fill="#939393"/>
<rect x="215.26" y="720.97" width="199.48" height="13.4" fill="#fff"/>
<rect x="215.26" y="720.97" width="199.48" height="13.4" fill="#cc3d50" fill-opacity="0.25" stroke="#e1221c" stroke-width="4.1"/>
<line x1="270.00" x2="270.00" y1="720.97" y2="734.37" stroke="#e1221c" stroke-width="4"/>
<line x1="159.08" x2="497.16" y1="831.12" y2="831.12" stroke="#939393" stroke-width="3.1"/>
<rect x="157.08" y="827.72" width="4" height="6.8" rx="0.8" fill="#939393"/>
<rect x="495.16" y="827.72" width="4" height="6.8" rx="0.8" fill="#939393"/>
<rect x="196.00" y="824.42" width="119.11" height="13.4" fill="#fff"/>
<rect x="196.00" y="824.42" width="119.11" height="13.4" fill="#e6bc7d" fill-opacity="0.4" stroke="#ee7822" stroke-width="4.1"/>
<line x1="231.48" x2="231.48" y1="824.42" y2="837.82" stroke="#ee7822" stroke-width="4"/>
<line x1="155.76" x2="267.01" y1="934.74" y2="934.74" stroke="#939393" stroke-width="3.1"/>
<rect x="153.76" y="931.34" width="4" height="6.8" rx="0.8" fill="#939393"/>
<rect x="265.01" y="931.34" width="4" height="6.8" rx="0.8" fill="#939393"/>
<rect x="167.77" y="928.04" width="39.74" height="13.4" fill="#fff"/>
<rect x="167.77" y="928.04" width="39.74" height="13.4" fill="#4682be" fill-opacity="0.2" stroke="#4682be" stroke-width="4.1"/>
<line x1="178.67" x2="178.67" y1="928.04" y2="941.44" stroke="#4682be" stroke-width="4"/>
<text x="132.17" y="661.80" font-size="30.5" text-anchor="start" font-weight="bold" >e</text>
<text x="389.73" y="1058.98" font-size="33.3" text-anchor="middle" font-weight="normal" >No escape events (days, anomaly)</text>
</g>
<g>
<path d="M847.12,675.50 V985.98 H1363.35" fill="none" stroke="#1a1a1a" stroke-width="1.8"/>
<line x1="847.12" x2="847.12" y1="985.98" y2="980.98" stroke="#1a1a1a" stroke-width="1.6"/>
<text x="847.42" y="1020.28" font-size="30.5" text-anchor="middle" font-weight="normal" >0</text>
<line x1="890.13" x2="890.13" y1="985.98" y2="982.98" stroke="#1a1a1a" stroke-width="1.5"/>
<line x1="933.14" x2="933.14" y1="985.98" y2="982.98" stroke="#1a1a1a" stroke-width="1.5"/>
<line x1="976.14" x2="976.14" y1="985.98" y2="982.98" stroke="#1a1a1a" stroke-width="1.5"/>
<line x1="1019.15" x2="1019.15" y1="985.98" y2="980.98" stroke="#1a1a1a" stroke-width="1.6"/>
<text x="1019.45" y="1020.28" font-size="30.5" text-anchor="middle" font-weight="normal" >2</text>
<line x1="1062.08" x2="1062.08" y1="985.98" y2="982.98" stroke="#1a1a1a" stroke-width="1.5"/>
<line x1="1105.00" x2="1105.00" y1="985.98" y2="982.98" stroke="#1a1a1a" stroke-width="1.5"/>
<line x1="1147.92" x2="1147.92" y1="985.98" y2="982.98" stroke="#1a1a1a" stroke-width="1.5"/>
<line x1="1190.85" x2="1190.85" y1="985.98" y2="980.98" stroke="#1a1a1a" stroke-width="1.6"/>
<text x="1191.15" y="1020.28" font-size="30.5" text-anchor="middle" font-weight="normal" >4</text>
<line x1="1233.77" x2="1233.77" y1="985.98" y2="982.98" stroke="#1a1a1a" stroke-width="1.5"/>
<line x1="1276.70" x2="1276.70" y1="985.98" y2="982.98" stroke="#1a1a1a" stroke-width="1.5"/>
<line x1="1319.62" x2="1319.62" y1="985.98" y2="982.98" stroke="#1a1a1a" stroke-width="1.5"/>
<line x1="1362.55" x2="1362.55" y1="985.98" y2="980.98" stroke="#1a1a1a" stroke-width="1.6"/>
<text x="1362.85" y="1020.28" font-size="30.5" text-anchor="middle" font-weight="normal" >6</text>
<line x1="847.12" x2="852.42" y1="729.93" y2="729.93" stroke="#1a1a1a" stroke-width="1.6"/>
<text x="841.02" y="740.73" font-size="30.5" text-anchor="end" font-weight="normal" >RCP 8.5</text>
<line x1="847.12" x2="852.42" y1="831.55" y2="831.55" stroke="#1a1a1a" stroke-width="1.6"/>
<text x="841.02" y="842.35" font-size="30.5" text-anchor="end" font-weight="normal" >RCP 6.0</text>
<line x1="847.12" x2="852.42" y1="932.18" y2="932.18" stroke="#1a1a1a" stroke-width="1.6"/>
<text x="841.02" y="942.98" font-size="30.5" text-anchor="end" font-weight="normal" >RCP 2.6</text>
<line x1="968.34" x2="1288.49" y1="727.67" y2="727.67" stroke="#939393" stroke-width="3.1"/>
<rect x="966.34" y="724.27" width="4" height="6.8" rx="0.8" fill="#939393"/>
<rect x="1286.49" y="724.27" width="4" height="6.8" rx="0.8" fill="#939393"/>
<rect x="1088.95" y="720.97" width="79.26" height="13.4" fill="#fff"/>
<rect x="1088.95" y="720.97" width="79.26" height="13.4" fill="#cc3d50" fill-opacity="0.25" stroke="#e1221c" stroke-width="4.1"/>
<line x1="1121.77" x2="1121.77" y1="720.97" y2="734.37" stroke="#e1221c" stroke-width="4"/>
<line x1="953.73" x2="1253.62" y1="831.12" y2="831.12" stroke="#939393" stroke-width="3.1"/>
<rect x="951.73" y="827.72" width="4" height="6.8" rx="0.8" fill="#939393"/>
<rect x="1251.62" y="827.72" width="4" height="6.8" rx="0.8" fill="#939393"/>
<rect x="1066.37" y="824.42" width="73.61" height="13.4" fill="#fff"/>
<rect x="1066.37" y="824.42" width="73.61" height="13.4" fill="#e6bc7d" fill-opacity="0.4" stroke="#ee7822" stroke-width="4.1"/>
<line x1="1094.87" x2="1094.87" y1="824.42" y2="837.82" stroke="#ee7822" stroke-width="4"/>
<line x1="911.55" x2="1156.31" y1="934.74" y2="934.74" stroke="#939393" stroke-width="3.1"/>
<rect x="909.55" y="931.34" width="4" height="6.8" rx="0.8" fill="#939393"/>
<rect x="1154.31" y="931.34" width="4" height="6.8" rx="0.8" fill="#939393"/>
<rect x="1002.94" y="928.04" width="61.66" height="13.4" fill="#fff"/>
<rect x="1002.94" y="928.04" width="61.66" height="13.4" fill="#4682be" fill-opacity="0.2" stroke="#4682be" stroke-width="4.1"/>
<line x1="1031.77" x2="1031.77" y1="928.04" y2="941.44" stroke="#4682be" stroke-width="4"/>
<text x="847.92" y="661.80" font-size="30.5" text-anchor="start" font-weight="bold" >f</text>
<text x="1106.33" y="1058.98" font-size="33.3" text-anchor="middle" font-weight="normal" >Escape depth (m, anomaly)</text>
</g>
<g>
<path d="M1564.46,675.50 V985.98 H2078.70" fill="none" stroke="#1a1a1a" stroke-width="1.8"/>
<line x1="1592.30" x2="1592.30" y1="985.98" y2="982.98" stroke="#1a1a1a" stroke-width="1.5"/>
<line x1="1573.63" x2="1573.63" y1="985.98" y2="982.98" stroke="#1a1a1a" stroke-width="1.5"/>
<line x1="1610.96" x2="1610.96" y1="985.98" y2="980.98" stroke="#1a1a1a" stroke-width="1.6"/>
<text x="1611.26" y="1020.28" font-size="30.5" text-anchor="middle" font-weight="normal" >0</text>
<line x1="1629.62" x2="1629.62" y1="985.98" y2="982.98" stroke="#1a1a1a" stroke-width="1.5"/>
<line x1="1648.29" x2="1648.29" y1="985.98" y2="982.98" stroke="#1a1a1a" stroke-width="1.5"/>
<line x1="1666.95" x2="1666.95" y1="985.98" y2="982.98" stroke="#1a1a1a" stroke-width="1.5"/>
<line x1="1685.62" x2="1685.62" y1="985.98" y2="982.98" stroke="#1a1a1a" stroke-width="1.5"/>
<line x1="1704.28" x2="1704.28" y1="985.98" y2="980.98" stroke="#1a1a1a" stroke-width="1.6"/>
<text x="1704.58" y="1020.28" font-size="30.5" text-anchor="middle" font-weight="normal" >100</text>
<line x1="1722.94" x2="1722.94" y1="985.98" y2="982.98" stroke="#1a1a1a" stroke-width="1.5"/>
<line x1="1741.61" x2="1741.61" y1="985.98" y2="982.98" stroke="#1a1a1a" stroke-width="1.5"/>
<line x1="1760.27" x2="1760.27" y1="985.98" y2="982.98" stroke="#1a1a1a" stroke-width="1.5"/>
<line x1="1778.94" x2="1778.94" y1="985.98" y2="982.98" stroke="#1a1a1a" stroke-width="1.5"/>
<line x1="1797.60" x2="1797.60" y1="985.98" y2="980.98" stroke="#1a1a1a" stroke-width="1.6"/>
<text x="1797.90" y="1020.28" font-size="30.5" text-anchor="middle" font-weight="normal" >200</text>
<line x1="1816.27" x2="1816.27" y1="985.98" y2="982.98" stroke="#1a1a1a" stroke-width="1.5"/>
<line x1="1834.93" x2="1834.93" y1="985.98" y2="982.98" stroke="#1a1a1a" stroke-width="1.5"/>
<line x1="1853.59" x2="1853.59" y1="985.98" y2="982.98" stroke="#1a1a1a" stroke-width="1.5"/>
<line x1="1872.26" x2="1872.26" y1="985.98" y2="982.98" stroke="#1a1a1a" stroke-width="1.5"/>
<line x1="1890.92" x2="1890.92" y1="985.98" y2="980.98" stroke="#1a1a1a" stroke-width="1.6"/>
<text x="1891.22" y="1020.28" font-size="30.5" text-anchor="middle" font-weight="normal" >300</text>
<line x1="1909.65" x2="1909.65" y1="985.98" y2="982.98" stroke="#1a1a1a" stroke-width="1.5"/>
<line x1="1928.38" x2="1928.38" y1="985.98" y2="982.98" stroke="#1a1a1a" stroke-width="1.5"/>
<line x1="1947.11" x2="1947.11" y1="985.98" y2="982.98" stroke="#1a1a1a" stroke-width="1.5"/>
<line x1="1965.85" x2="1965.85" y1="985.98" y2="982.98" stroke="#1a1a1a" stroke-width="1.5"/>
<line x1="1984.58" x2="1984.58" y1="985.98" y2="980.98" stroke="#1a1a1a" stroke-width="1.6"/>
<text x="1984.88" y="1020.28" font-size="30.5" text-anchor="middle" font-weight="normal" >400</text>
<line x1="2003.24" x2="2003.24" y1="985.98" y2="982.98" stroke="#1a1a1a" stroke-width="1.5"/>
<line x1="2021.90" x2="2021.90" y1="985.98" y2="982.98" stroke="#1a1a1a" stroke-width="1.5"/>
<line x1="2040.57" x2="2040.57" y1="985.98" y2="982.98" stroke="#1a1a1a" stroke-width="1.5"/>
<line x1="2059.23" x2="2059.23" y1="985.98" y2="982.98" stroke="#1a1a1a" stroke-width="1.5"/>
<line x1="2077.90" x2="2077.90" y1="985.98" y2="980.98" stroke="#1a1a1a" stroke-width="1.6"/>
<text x="2078.20" y="1020.28" font-size="30.5" text-anchor="middle" font-weight="normal" >500</text>
<line x1="1564.46" x2="1569.76" y1="729.93" y2="729.93" stroke="#1a1a1a" stroke-width="1.6"/>
<text x="1556.86" y="740.73" font-size="30.5" text-anchor="end" font-weight="normal" >RCP 8.5</text>
<line x1="1564.46" x2="1569.76" y1="831.55" y2="831.55" stroke="#1a1a1a" stroke-width="1.6"/>
<text x="1556.86" y="842.35" font-size="30.5" text-anchor="end" font-weight="normal" >RCP 6.0</text>
<line x1="1564.46" x2="1569.76" y1="932.18" y2="932.18" stroke="#1a1a1a" stroke-width="1.6"/>
<text x="1556.86" y="942.98" font-size="30.5" text-anchor="end" font-weight="normal" >RCP 2.6</text>
<line x1="1587.05" x2="1911.85" y1="727.67" y2="727.67" stroke="#939393" stroke-width="3.1"/>
<rect x="1585.05" y="724.27" width="4" height="6.8" rx="0.8" fill="#939393"/>
<rect x="1909.85" y="724.27" width="4" height="6.8" rx="0.8" fill="#939393"/>
<rect x="1698.36" y="720.97" width="142.36" height="13.4" fill="#fff"/>
<rect x="1698.36" y="720.97" width="142.36" height="13.4" fill="#cc3d50" fill-opacity="0.25" stroke="#e1221c" stroke-width="4.1"/>
<line x1="1738.49" x2="1738.49" y1="720.97" y2="734.37" stroke="#e1221c" stroke-width="4"/>
<line x1="1591.37" x2="1906.53" y1="831.12" y2="831.12" stroke="#939393" stroke-width="3.1"/>
<rect x="1589.37" y="827.72" width="4" height="6.8" rx="0.8" fill="#939393"/>
<rect x="1904.53" y="827.72" width="4" height="6.8" rx="0.8" fill="#939393"/>
<rect x="1663.16" y="824.42" width="99.85" height="13.4" fill="#fff"/>
<rect x="1663.16" y="824.42" width="99.85" height="13.4" fill="#e6bc7d" fill-opacity="0.4" stroke="#ee7822" stroke-width="4.1"/>
<line x1="1691.99" x2="1691.99" y1="824.42" y2="837.82" stroke="#ee7822" stroke-width="4"/>
<line x1="1586.05" x2="1727.20" y1="934.74" y2="934.74" stroke="#939393" stroke-width="3.1"/>
<rect x="1584.05" y="931.34" width="4" height="6.8" rx="0.8" fill="#939393"/>
<rect x="1725.20" y="931.34" width="4" height="6.8" rx="0.8" fill="#939393"/>
<rect x="1628.62" y="928.04" width="39.07" height="13.4" fill="#fff"/>
<rect x="1628.62" y="928.04" width="39.07" height="13.4" fill="#4682be" fill-opacity="0.2" stroke="#4682be" stroke-width="4.1"/>
<line x1="1638.86" x2="1638.86" y1="928.04" y2="941.44" stroke="#4682be" stroke-width="4"/>
<text x="1563.46" y="661.80" font-size="30.5" text-anchor="start" font-weight="bold" >g</text>
<text x="1820.68" y="1058.98" font-size="33.3" text-anchor="middle" font-weight="normal" ># of days (anomaly)</text>
</g>
<g>
<path d="M133.17,1126.08 V1436.60 H647.07" fill="none" stroke="#1a1a1a" stroke-width="1.8"/>
<line x1="166.78" x2="166.78" y1="1436.60" y2="1433.60" stroke="#1a1a1a" stroke-width="1.5"/>
<line x1="143.93" x2="143.93" y1="1436.60" y2="1433.60" stroke="#1a1a1a" stroke-width="1.5"/>
<line x1="189.63" x2="189.63" y1="1436.60" y2="1431.60" stroke="#1a1a1a" stroke-width="1.6"/>
<text x="189.93" y="1470.90" font-size="30.5" text-anchor="middle" font-weight="normal" >0</text>
<line x1="212.48" x2="212.48" y1="1436.60" y2="1433.60" stroke="#1a1a1a" stroke-width="1.5"/>
<line x1="235.33" x2="235.33" y1="1436.60" y2="1433.60" stroke="#1a1a1a" stroke-width="1.5"/>
<line x1="258.18" x2="258.18" y1="1436.60" y2="1433.60" stroke="#1a1a1a" stroke-width="1.5"/>
<line x1="281.03" x2="281.03" y1="1436.60" y2="1433.60" stroke="#1a1a1a" stroke-width="1.5"/>
<line x1="303.87" x2="303.87" y1="1436.60" y2="1431.60" stroke="#1a1a1a" stroke-width="1.6"/>
<text x="304.17" y="1470.90" font-size="30.5" text-anchor="middle" font-weight="normal" >100</text>
<line x1="326.72" x2="326.72" y1="1436.60" y2="1433.60" stroke="#1a1a1a" stroke-width="1.5"/>
<line x1="349.57" x2="349.57" y1="1436.60" y2="1433.60" stroke="#1a1a1a" stroke-width="1.5"/>
<line x1="372.42" x2="372.42" y1="1436.60" y2="1433.60" stroke="#1a1a1a" stroke-width="1.5"/>
<line x1="395.27" x2="395.27" y1="1436.60" y2="1433.60" stroke="#1a1a1a" stroke-width="1.5"/>
<line x1="418.12" x2="418.12" y1="1436.60" y2="1431.60" stroke="#1a1a1a" stroke-width="1.6"/>
<text x="418.42" y="1470.90" font-size="30.5" text-anchor="middle" font-weight="normal" >200</text>
<line x1="440.97" x2="440.97" y1="1436.60" y2="1433.60" stroke="#1a1a1a" stroke-width="1.5"/>
<line x1="463.82" x2="463.82" y1="1436.60" y2="1433.60" stroke="#1a1a1a" stroke-width="1.5"/>
<line x1="486.66" x2="486.66" y1="1436.60" y2="1433.60" stroke="#1a1a1a" stroke-width="1.5"/>
<line x1="509.51" x2="509.51" y1="1436.60" y2="1433.60" stroke="#1a1a1a" stroke-width="1.5"/>
<line x1="532.36" x2="532.36" y1="1436.60" y2="1431.60" stroke="#1a1a1a" stroke-width="1.6"/>
<text x="532.66" y="1470.90" font-size="30.5" text-anchor="middle" font-weight="normal" >300</text>
<line x1="555.14" x2="555.14" y1="1436.60" y2="1433.60" stroke="#1a1a1a" stroke-width="1.5"/>
<line x1="577.93" x2="577.93" y1="1436.60" y2="1433.60" stroke="#1a1a1a" stroke-width="1.5"/>
<line x1="600.71" x2="600.71" y1="1436.60" y2="1433.60" stroke="#1a1a1a" stroke-width="1.5"/>
<line x1="623.49" x2="623.49" y1="1436.60" y2="1433.60" stroke="#1a1a1a" stroke-width="1.5"/>
<line x1="646.27" x2="646.27" y1="1436.60" y2="1431.60" stroke="#1a1a1a" stroke-width="1.6"/>
<text x="646.57" y="1470.90" font-size="30.5" text-anchor="middle" font-weight="normal" >400</text>
<line x1="133.17" x2="138.47" y1="1180.88" y2="1180.88" stroke="#1a1a1a" stroke-width="1.6"/>
<text x="125.57" y="1191.68" font-size="30.5" text-anchor="end" font-weight="normal" >RCP 8.5</text>
<line x1="133.17" x2="138.47" y1="1282.17" y2="1282.17" stroke="#1a1a1a" stroke-width="1.6"/>
<text x="125.57" y="1292.97" font-size="30.5" text-anchor="end" font-weight="normal" >RCP 6.0</text>
<line x1="133.17" x2="138.47" y1="1383.13" y2="1383.13" stroke="#1a1a1a" stroke-width="1.6"/>
<text x="125.57" y="1393.93" font-size="30.5" text-anchor="end" font-weight="normal" >RCP 2.6</text>
<line x1="160.74" x2="544.98" y1="1178.29" y2="1178.29" stroke="#939393" stroke-width="3.1"/>
<rect x="158.74" y="1174.89" width="4" height="6.8" rx="0.8" fill="#939393"/>
<rect x="542.98" y="1174.89" width="4" height="6.8" rx="0.8" fill="#939393"/>
<rect x="250.46" y="1171.59" width="116.79" height="13.4" fill="#fff"/>
<rect x="250.46" y="1171.59" width="116.79" height="13.4" fill="#cc3d50" fill-opacity="0.25" stroke="#e1221c" stroke-width="4.1"/>
<line x1="282.29" x2="282.29" y1="1171.59" y2="1184.99" stroke="#e1221c" stroke-width="4"/>
<line x1="167.05" x2="339.74" y1="1282.07" y2="1282.07" stroke="#939393" stroke-width="3.1"/>
<rect x="165.05" y="1278.67" width="4" height="6.8" rx="0.8" fill="#939393"/>
<rect x="337.74" y="1278.67" width="4" height="6.8" rx="0.8" fill="#939393"/>
<rect x="217.25" y="1275.37" width="48.37" height="13.4" fill="#fff"/>
<rect x="217.25" y="1275.37" width="48.37" height="13.4" fill="#e6bc7d" fill-opacity="0.4" stroke="#ee7822" stroke-width="4.1"/>
<line x1="230.81" x2="230.81" y1="1275.37" y2="1288.77" stroke="#ee7822" stroke-width="4"/>
<line x1="177.01" x2="228.82" y1="1385.69" y2="1385.69" stroke="#939393" stroke-width="3.1"/>
<rect x="175.01" y="1382.29" width="4" height="6.8" rx="0.8" fill="#939393"/>
<rect x="226.82" y="1382.29" width="4" height="6.8" rx="0.8" fill="#939393"/>
<rect x="197.33" y="1378.99" width="12.17" height="13.4" fill="#fff"/>
<rect x="197.33" y="1378.99" width="12.17" height="13.4" fill="#4682be" fill-opacity="0.2" stroke="#4682be" stroke-width="4.1"/>
<line x1="203.25" x2="203.25" y1="1378.99" y2="1392.39" stroke="#4682be" stroke-width="4"/>
<text x="132.87" y="1112.38" font-size="30.5" text-anchor="start" font-weight="bold" >h</text>
<text x="389.73" y="1509.60" font-size="33.3" text-anchor="middle" font-weight="normal" >Average duration (days, anomaly)</text>
</g>
<g>
<path d="M847.12,1126.08 V1436.60 H1363.35" fill="none" stroke="#1a1a1a" stroke-width="1.8"/>
<line x1="847.12" x2="847.12" y1="1436.60" y2="1431.60" stroke="#1a1a1a" stroke-width="1.6"/>
<text x="847.42" y="1470.90" font-size="30.5" text-anchor="middle" font-weight="normal" >0</text>
<line x1="867.78" x2="867.78" y1="1436.60" y2="1433.60" stroke="#1a1a1a" stroke-width="1.5"/>
<line x1="888.44" x2="888.44" y1="1436.60" y2="1433.60" stroke="#1a1a1a" stroke-width="1.5"/>
<line x1="909.09" x2="909.09" y1="1436.60" y2="1433.60" stroke="#1a1a1a" stroke-width="1.5"/>
<line x1="929.75" x2="929.75" y1="1436.60" y2="1433.60" stroke="#1a1a1a" stroke-width="1.5"/>
<line x1="950.41" x2="950.41" y1="1436.60" y2="1431.60" stroke="#1a1a1a" stroke-width="1.6"/>
<text x="950.71" y="1470.90" font-size="30.5" text-anchor="middle" font-weight="normal" >1</text>
<line x1="971.00" x2="971.00" y1="1436.60" y2="1433.60" stroke="#1a1a1a" stroke-width="1.5"/>
<line x1="991.59" x2="991.59" y1="1436.60" y2="1433.60" stroke="#1a1a1a" stroke-width="1.5"/>
<line x1="1012.18" x2="1012.18" y1="1436.60" y2="1433.60" stroke="#1a1a1a" stroke-width="1.5"/>
<line x1="1032.77" x2="1032.77" y1="1436.60" y2="1433.60" stroke="#1a1a1a" stroke-width="1.5"/>
<line x1="1053.36" x2="1053.36" y1="1436.60" y2="1431.60" stroke="#1a1a1a" stroke-width="1.6"/>
<text x="1053.66" y="1470.90" font-size="30.5" text-anchor="middle" font-weight="normal" >2</text>
<line x1="1074.01" x2="1074.01" y1="1436.60" y2="1433.60" stroke="#1a1a1a" stroke-width="1.5"/>
<line x1="1094.67" x2="1094.67" y1="1436.60" y2="1433.60" stroke="#1a1a1a" stroke-width="1.5"/>
<line x1="1115.33" x2="1115.33" y1="1436.60" y2="1433.60" stroke="#1a1a1a" stroke-width="1.5"/>
<line x1="1135.99" x2="1135.99" y1="1436.60" y2="1433.60" stroke="#1a1a1a" stroke-width="1.5"/>
<line x1="1156.64" x2="1156.64" y1="1436.60" y2="1431.60" stroke="#1a1a1a" stroke-width="1.6"/>
<text x="1156.94" y="1470.90" font-size="30.5" text-anchor="middle" font-weight="normal" >3</text>
<line x1="1177.23" x2="1177.23" y1="1436.60" y2="1433.60" stroke="#1a1a1a" stroke-width="1.5"/>
<line x1="1197.82" x2="1197.82" y1="1436.60" y2="1433.60" stroke="#1a1a1a" stroke-width="1.5"/>
<line x1="1218.41" x2="1218.41" y1="1436.60" y2="1433.60" stroke="#1a1a1a" stroke-width="1.5"/>
<line x1="1239.00" x2="1239.00" y1="1436.60" y2="1433.60" stroke="#1a1a1a" stroke-width="1.5"/>
<line x1="1259.59" x2="1259.59" y1="1436.60" y2="1431.60" stroke="#1a1a1a" stroke-width="1.6"/>
<text x="1259.89" y="1470.90" font-size="30.5" text-anchor="middle" font-weight="normal" >4</text>
<line x1="1280.18" x2="1280.18" y1="1436.60" y2="1433.60" stroke="#1a1a1a" stroke-width="1.5"/>
<line x1="1300.77" x2="1300.77" y1="1436.60" y2="1433.60" stroke="#1a1a1a" stroke-width="1.5"/>
<line x1="1321.37" x2="1321.37" y1="1436.60" y2="1433.60" stroke="#1a1a1a" stroke-width="1.5"/>
<line x1="1341.96" x2="1341.96" y1="1436.60" y2="1433.60" stroke="#1a1a1a" stroke-width="1.5"/>
<line x1="1362.55" x2="1362.55" y1="1436.60" y2="1431.60" stroke="#1a1a1a" stroke-width="1.6"/>
<text x="1362.85" y="1470.90" font-size="30.5" text-anchor="middle" font-weight="normal" >5</text>
<line x1="847.12" x2="852.42" y1="1180.88" y2="1180.88" stroke="#1a1a1a" stroke-width="1.6"/>
<text x="841.02" y="1191.68" font-size="30.5" text-anchor="end" font-weight="normal" >RCP 8.5</text>
<line x1="847.12" x2="852.42" y1="1282.17" y2="1282.17" stroke="#1a1a1a" stroke-width="1.6"/>
<text x="841.02" y="1292.97" font-size="30.5" text-anchor="end" font-weight="normal" >RCP 6.0</text>
<line x1="847.12" x2="852.42" y1="1383.13" y2="1383.13" stroke="#1a1a1a" stroke-width="1.6"/>
<text x="841.02" y="1393.93" font-size="30.5" text-anchor="end" font-weight="normal" >RCP 2.6</text>
<line x1="847.72" x2="1198.82" y1="1178.29" y2="1178.29" stroke="#939393" stroke-width="3.1"/>
<rect x="1196.82" y="1174.89" width="4" height="6.8" rx="0.8" fill="#939393"/>
<rect x="915.59" y="1171.59" width="112.80" height="13.4" fill="#fff"/>
<rect x="915.59" y="1171.59" width="112.80" height="13.4" fill="#cc3d50" fill-opacity="0.25" stroke="#e1221c" stroke-width="4.1"/>
<line x1="985.61" x2="985.61" y1="1171.59" y2="1184.99" stroke="#e1221c" stroke-width="4"/>
<line x1="847.72" x2="1073.28" y1="1282.07" y2="1282.07" stroke="#939393" stroke-width="3.1"/>
<rect x="1071.28" y="1278.67" width="4" height="6.8" rx="0.8" fill="#939393"/>
<rect x="916.59" y="1275.37" width="63.32" height="13.4" fill="#fff"/>
<rect x="916.59" y="1275.37" width="63.32" height="13.4" fill="#e6bc7d" fill-opacity="0.4" stroke="#ee7822" stroke-width="4.1"/>
<line x1="949.08" x2="949.08" y1="1275.37" y2="1288.77" stroke="#ee7822" stroke-width="4"/>
<line x1="847.72" x2="972.66" y1="1385.69" y2="1385.69" stroke="#939393" stroke-width="3.1"/>
<rect x="970.66" y="1382.29" width="4" height="6.8" rx="0.8" fill="#939393"/>
<rect x="886.70" y="1378.99" width="33.76" height="13.4" fill="#fff"/>
<rect x="886.70" y="1378.99" width="33.76" height="13.4" fill="#4682be" fill-opacity="0.2" stroke="#4682be" stroke-width="4.1"/>
<line x1="902.92" x2="902.92" y1="1378.99" y2="1392.39" stroke="#4682be" stroke-width="4"/>
<text x="847.92" y="1112.38" font-size="30.5" text-anchor="start" font-weight="bold" >i</text>
<text x="1106.33" y="1509.60" font-size="33.3" text-anchor="middle" font-weight="normal" >Average intensity (°C, anomaly)</text>
</g>
<g>
<path d="M1564.46,1126.08 V1436.60 H2078.70" fill="none" stroke="#1a1a1a" stroke-width="1.8"/>
<line x1="1580.07" x2="1580.07" y1="1436.60" y2="1431.60" stroke="#1a1a1a" stroke-width="1.6"/>
<text x="1580.37" y="1470.90" font-size="30.5" text-anchor="middle" font-weight="normal" >0</text>
<line x1="1613.28" x2="1613.28" y1="1436.60" y2="1433.60" stroke="#1a1a1a" stroke-width="1.5"/>
<line x1="1646.49" x2="1646.49" y1="1436.60" y2="1433.60" stroke="#1a1a1a" stroke-width="1.5"/>
<line x1="1679.70" x2="1679.70" y1="1436.60" y2="1433.60" stroke="#1a1a1a" stroke-width="1.5"/>
<line x1="1712.92" x2="1712.92" y1="1436.60" y2="1433.60" stroke="#1a1a1a" stroke-width="1.5"/>
<line x1="1746.13" x2="1746.13" y1="1436.60" y2="1431.60" stroke="#1a1a1a" stroke-width="1.6"/>
<text x="1746.43" y="1470.90" font-size="30.5" text-anchor="middle" font-weight="normal" >500</text>
<line x1="1779.34" x2="1779.34" y1="1436.60" y2="1433.60" stroke="#1a1a1a" stroke-width="1.5"/>
<line x1="1812.55" x2="1812.55" y1="1436.60" y2="1433.60" stroke="#1a1a1a" stroke-width="1.5"/>
<line x1="1845.76" x2="1845.76" y1="1436.60" y2="1433.60" stroke="#1a1a1a" stroke-width="1.5"/>
<line x1="1878.97" x2="1878.97" y1="1436.60" y2="1433.60" stroke="#1a1a1a" stroke-width="1.5"/>
<line x1="1912.18" x2="1912.18" y1="1436.60" y2="1431.60" stroke="#1a1a1a" stroke-width="1.6"/>
<text x="1912.48" y="1470.90" font-size="30.5" text-anchor="middle" font-weight="normal" >1000</text>
<line x1="1945.32" x2="1945.32" y1="1436.60" y2="1433.60" stroke="#1a1a1a" stroke-width="1.5"/>
<line x1="1978.46" x2="1978.46" y1="1436.60" y2="1433.60" stroke="#1a1a1a" stroke-width="1.5"/>
<line x1="2011.61" x2="2011.61" y1="1436.60" y2="1433.60" stroke="#1a1a1a" stroke-width="1.5"/>
<line x1="2044.75" x2="2044.75" y1="1436.60" y2="1433.60" stroke="#1a1a1a" stroke-width="1.5"/>
<line x1="2077.90" x2="2077.90" y1="1436.60" y2="1431.60" stroke="#1a1a1a" stroke-width="1.6"/>
<text x="2078.20" y="1470.90" font-size="30.5" text-anchor="middle" font-weight="normal" >1500</text>
<line x1="1564.46" x2="1569.76" y1="1180.88" y2="1180.88" stroke="#1a1a1a" stroke-width="1.6"/>
<text x="1556.86" y="1191.68" font-size="30.5" text-anchor="end" font-weight="normal" >RCP 8.5</text>
<line x1="1564.46" x2="1569.76" y1="1282.17" y2="1282.17" stroke="#1a1a1a" stroke-width="1.6"/>
<text x="1556.86" y="1292.97" font-size="30.5" text-anchor="end" font-weight="normal" >RCP 6.0</text>
<line x1="1564.46" x2="1569.76" y1="1383.13" y2="1383.13" stroke="#1a1a1a" stroke-width="1.6"/>
<text x="1556.86" y="1393.93" font-size="30.5" text-anchor="end" font-weight="normal" >RCP 2.6</text>
<line x1="1579.08" x2="2006.16" y1="1178.29" y2="1178.29" stroke="#939393" stroke-width="3.1"/>
<rect x="1577.08" y="1174.89" width="4" height="6.8" rx="0.8" fill="#939393"/>
<rect x="2004.16" y="1174.89" width="4" height="6.8" rx="0.8" fill="#939393"/>
<rect x="1636.92" y="1171.59" width="147.01" height="13.4" fill="#fff"/>
<rect x="1636.92" y="1171.59" width="147.01" height="13.4" fill="#cc3d50" fill-opacity="0.25" stroke="#e1221c" stroke-width="4.1"/>
<line x1="1692.32" x2="1692.32" y1="1171.59" y2="1184.99" stroke="#e1221c" stroke-width="4"/>
<line x1="1579.08" x2="1720.22" y1="1282.07" y2="1282.07" stroke="#939393" stroke-width="3.1"/>
<rect x="1577.08" y="1278.67" width="4" height="6.8" rx="0.8" fill="#939393"/>
<rect x="1718.22" y="1278.67" width="4" height="6.8" rx="0.8" fill="#939393"/>
<rect x="1604.71" y="1275.37" width="45.38" height="13.4" fill="#fff"/>
<rect x="1604.71" y="1275.37" width="45.38" height="13.4" fill="#e6bc7d" fill-opacity="0.4" stroke="#ee7822" stroke-width="4.1"/>
<line x1="1621.59" x2="1621.59" y1="1275.37" y2="1288.77" stroke="#ee7822" stroke-width="4"/>
<line x1="1572.44" x2="1608.30" y1="1385.69" y2="1385.69" stroke="#939393" stroke-width="3.1"/>
<rect x="1570.44" y="1382.29" width="4" height="6.8" rx="0.8" fill="#939393"/>
<rect x="1606.30" y="1382.29" width="4" height="6.8" rx="0.8" fill="#939393"/>
<rect x="1586.11" y="1378.99" width="8.19" height="13.4" fill="#fff"/>
<rect x="1586.11" y="1378.99" width="8.19" height="13.4" fill="#4682be" fill-opacity="0.2" stroke="#4682be" stroke-width="4.1"/>
<line x1="1590.70" x2="1590.70" y1="1378.99" y2="1392.39" stroke="#4682be" stroke-width="4"/>
<text x="1563.46" y="1112.38" font-size="30.5" text-anchor="start" font-weight="bold" >j</text>
<text x="1821.68" y="1509.60" font-size="33.3" text-anchor="middle" font-weight="normal" >Cumulative intensity (°C x days, anomaly)</text>
</g>
</g>
</svg>
</figure>
</main>
</body>
</html>
